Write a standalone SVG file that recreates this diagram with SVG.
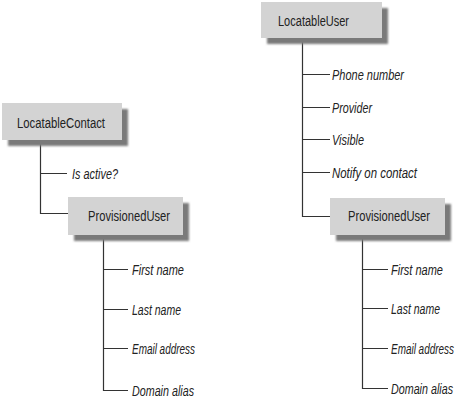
<svg xmlns="http://www.w3.org/2000/svg" width="465" height="404" viewBox="0 0 465 404">
<style>
.box{fill:#d3d3d3}
.shadow{fill:#7a7a7a;filter:url(#blur)}
.title{font-family:"Liberation Sans",Arial,sans-serif;font-size:15.5px;fill:#222}
.label{font-family:"Liberation Sans",Arial,sans-serif;font-style:italic;font-size:14.5px;fill:#222}
.conn path{fill:none;stroke:#333;stroke-width:1.2}
</style>
<defs>
<filter id="blur" x="-10%" y="-20%" width="120%" height="140%"><feGaussianBlur stdDeviation="1.2"/></filter>
</defs>
<rect width="465" height="404" fill="#fff"/>
<g id="conn" class="conn">
<path d="M40.5 140V213.5H68M40.5 173.5H67"/>
<path d="M103.5 235V390.5H128M103.5 269.5H128M103.5 309.5H128M103.5 348.5H128"/>
<path d="M302.5 38V216.5H330M302.5 74.5H330M302.5 107.5H330M302.5 139.5H330M302.5 172.5H330"/>
<path d="M362.5 235V388.5H388M362.5 269.5H388M362.5 308.5H388M362.5 348.5H388"/>
</g>
<g id="locatableContact">
<rect class="shadow" x="8" y="109" width="120" height="37"/>
<rect class="box" x="2" y="103" width="120" height="37"/>
<text class="title" x="17" y="127.5" textLength="88" lengthAdjust="spacingAndGlyphs">LocatableContact</text>
</g>
<g id="provisionedUserLeft">
<rect class="shadow" x="74" y="203" width="115" height="38"/>
<rect class="box" x="68" y="197" width="115" height="38"/>
<text class="title" x="88" y="220.5" textLength="82" lengthAdjust="spacingAndGlyphs">ProvisionedUser</text>
</g>
<g id="locatableUser">
<rect class="shadow" x="267" y="8" width="121" height="36"/>
<rect class="box" x="261" y="2" width="121" height="36"/>
<text class="title" x="278" y="25.5" textLength="71" lengthAdjust="spacingAndGlyphs">LocatableUser</text>
</g>
<g id="provisionedUserRight">
<rect class="shadow" x="336" y="204" width="115" height="37"/>
<rect class="box" x="330" y="198" width="115" height="37"/>
<text class="title" x="348" y="220.5" textLength="82" lengthAdjust="spacingAndGlyphs">ProvisionedUser</text>
</g>
<g id="labels">
<text class="label" x="72" y="178.5" textLength="46" lengthAdjust="spacingAndGlyphs">Is active?</text>
<text class="label" x="132" y="274.5" textLength="52" lengthAdjust="spacingAndGlyphs">First name</text>
<text class="label" x="132" y="314.5" textLength="49" lengthAdjust="spacingAndGlyphs">Last name</text>
<text class="label" x="132" y="353.5" textLength="63" lengthAdjust="spacingAndGlyphs">Email address</text>
<text class="label" x="132" y="395.5" textLength="62" lengthAdjust="spacingAndGlyphs">Domain alias</text>
<text class="label" x="332" y="79.5" textLength="72" lengthAdjust="spacingAndGlyphs">Phone number</text>
<text class="label" x="332" y="112.5" textLength="40" lengthAdjust="spacingAndGlyphs">Provider</text>
<text class="label" x="332" y="144.5" textLength="32" lengthAdjust="spacingAndGlyphs">Visible</text>
<text class="label" x="332" y="177.5" textLength="85" lengthAdjust="spacingAndGlyphs">Notify on contact</text>
<text class="label" x="391" y="274.5" textLength="52" lengthAdjust="spacingAndGlyphs">First name</text>
<text class="label" x="391" y="313.5" textLength="49" lengthAdjust="spacingAndGlyphs">Last name</text>
<text class="label" x="391" y="353.5" textLength="63" lengthAdjust="spacingAndGlyphs">Email address</text>
<text class="label" x="391" y="393.5" textLength="62" lengthAdjust="spacingAndGlyphs">Domain alias</text>
</g>
</svg>
